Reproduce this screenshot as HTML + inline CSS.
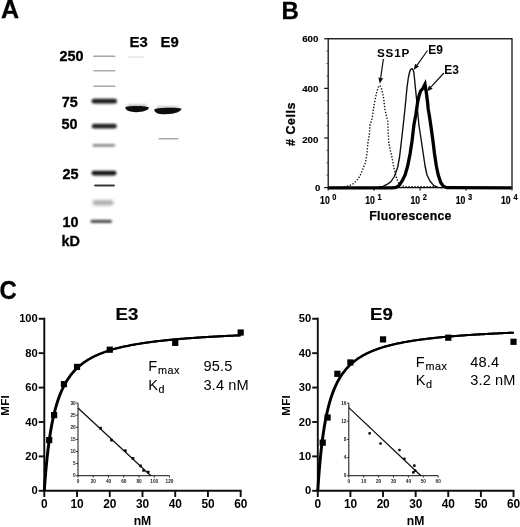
<!DOCTYPE html>
<html><head><meta charset="utf-8"><title>Figure</title>
<style>
html,body{margin:0;padding:0;background:#fff;}
body{width:520px;height:527px;overflow:hidden;font-family:"Liberation Sans",sans-serif;}
svg{display:block;font-family:"Liberation Sans",sans-serif;}
.b{font-weight:bold;}
</style></head><body>
<svg width="520" height="527" viewBox="0 0 520 527">
<defs>
<filter id="bl1" x="-20%" y="-200%" width="140%" height="500%"><feGaussianBlur stdDeviation="0.7"/></filter>
<filter id="bl2" x="-20%" y="-200%" width="140%" height="500%"><feGaussianBlur stdDeviation="1.1"/></filter>
<filter id="bl3" x="-20%" y="-200%" width="140%" height="500%"><feGaussianBlur stdDeviation="1.6"/></filter>
<filter id="tb" x="0" y="0" width="520" height="527" filterUnits="userSpaceOnUse"><feGaussianBlur stdDeviation="0.3"/></filter>
</defs>
<rect width="520" height="527" fill="#fff"/>
<g filter="url(#tb)">

<g id="panelA">
<text x="0.9" y="17.9" class="b" font-size="25" stroke="#000" stroke-width="0.3">A</text>
<text x="129.6" y="47.3" class="b" font-size="14.9" stroke="#000" stroke-width="0.25">E3</text>
<text x="160.6" y="47.3" class="b" font-size="14.9" stroke="#000" stroke-width="0.25">E9</text>
<text transform="translate(71.5,61.2) scale(0.93,1)" text-anchor="middle" class="b" font-size="15.5" stroke="#000" stroke-width="0.35">250</text>
<text transform="translate(69.8,106.9) scale(0.93,1)" text-anchor="middle" class="b" font-size="15.5" stroke="#000" stroke-width="0.35">75</text>
<text transform="translate(69.6,128.5) scale(0.93,1)" text-anchor="middle" class="b" font-size="15.5" stroke="#000" stroke-width="0.35">50</text>
<text transform="translate(70.6,178.9) scale(0.93,1)" text-anchor="middle" class="b" font-size="15.5" stroke="#000" stroke-width="0.35">25</text>
<text transform="translate(70.6,226.6) scale(0.93,1)" text-anchor="middle" class="b" font-size="15.5" stroke="#000" stroke-width="0.35">10</text>
<text transform="translate(70.6,246.3) scale(0.93,1)" text-anchor="middle" class="b" font-size="15.5" stroke="#000" stroke-width="0.35">kD</text>
<rect x="93" y="55.4" width="22.5" height="1.6" rx="0.8" fill="#a4a4a4" filter="url(#bl1)"/>
<rect x="93.2" y="69.95" width="22.299999999999997" height="1.5" rx="0.75" fill="#adadad" filter="url(#bl1)"/>
<rect x="93.2" y="85.55" width="22.299999999999997" height="1.5" rx="0.75" fill="#a8a8a8" filter="url(#bl1)"/>
<rect x="91.6" y="98.8" width="25.400000000000006" height="4.8" rx="2.4" fill="#1a1a1a" filter="url(#bl2)"/>
<rect x="91.8" y="123.8" width="25.0" height="4.8" rx="2.4" fill="#222" filter="url(#bl2)"/>
<rect x="92.6" y="144.1" width="22.60000000000001" height="2.6" rx="1.3" fill="#888" filter="url(#bl2)"/>
<rect x="91.5" y="170.8" width="25.0" height="4.6" rx="2.3" fill="#141414" filter="url(#bl2)"/>
<rect x="94" y="184.4" width="21" height="2.2" rx="1.1" fill="#3a3a3a" filter="url(#bl1)"/>
<rect x="92.5" y="200.05" width="21.0" height="5.5" rx="2.75" fill="#b0b0b0" filter="url(#bl3)"/>
<rect x="90.5" y="219.85" width="21.5" height="3.1" rx="1.55" fill="#505050" filter="url(#bl2)"/>
<rect x="127.5" y="104.6" width="19" height="2.4" rx="1" fill="#b8b8b8" filter="url(#bl2)"/>
<rect x="157" y="106.6" width="22" height="2.4" rx="1" fill="#b8b8b8" filter="url(#bl2)"/>
<path d="M125.4,107 C130,105.5 144,105.5 148.8,107.2 C149,109.4 146,110.9 141,111.8 C136,112.5 131,112.1 128,110.8 C126,109.7 125.2,108.4 125.4,107 Z" fill="#0a0a0a" filter="url(#bl1)"/>
<path d="M154.4,109.2 C160,107.6 176,107.4 181.4,108.5 C181.6,110.6 178,112.6 172,113.8 C166,114.6 160,114.4 157,113.2 C155,112.1 154.2,110.7 154.4,109.2 Z" fill="#0a0a0a" filter="url(#bl1)"/>
<rect x="158.5" y="138.1" width="20" height="1.3" rx="0.6" fill="#a8a8a8" filter="url(#bl1)"/>
<rect x="128" y="56.4" width="16" height="1.1" rx="0.5" fill="#dcdcdc" filter="url(#bl1)"/>
</g>
<g id="panelB">
<text x="281.6" y="18.5" class="b" font-size="24" stroke="#000" stroke-width="0.3">B</text>
<rect x="328.2" y="38.75" width="183.8" height="148.85" fill="none" stroke="#111" stroke-width="1.3"/>
<line x1="324.2" y1="38.75" x2="328.2" y2="38.75" stroke="#111" stroke-width="1.2"/>
<text x="318.3" y="42.25" text-anchor="end" class="b" font-size="9.7" stroke="#000" stroke-width="0.15">600</text>
<line x1="324.2" y1="88.37" x2="328.2" y2="88.37" stroke="#111" stroke-width="1.2"/>
<text x="318.3" y="91.87" text-anchor="end" class="b" font-size="9.7" stroke="#000" stroke-width="0.15">400</text>
<line x1="324.2" y1="137.98" x2="328.2" y2="137.98" stroke="#111" stroke-width="1.2"/>
<text x="318.3" y="142.68" text-anchor="end" class="b" font-size="9.7" stroke="#000" stroke-width="0.15">200</text>
<line x1="324.2" y1="187.6" x2="328.2" y2="187.6" stroke="#111" stroke-width="1.2"/>
<text x="320.3" y="191.1" text-anchor="end" class="b" font-size="9.7" stroke="#000" stroke-width="0.15">0</text>
<line x1="326.2" y1="175.2" x2="328.2" y2="175.2" stroke="#444" stroke-width="0.7"/>
<line x1="326.2" y1="162.79" x2="328.2" y2="162.79" stroke="#444" stroke-width="0.7"/>
<line x1="326.2" y1="150.39" x2="328.2" y2="150.39" stroke="#444" stroke-width="0.7"/>
<line x1="326.2" y1="125.58" x2="328.2" y2="125.58" stroke="#444" stroke-width="0.7"/>
<line x1="326.2" y1="113.17" x2="328.2" y2="113.17" stroke="#444" stroke-width="0.7"/>
<line x1="326.2" y1="100.77" x2="328.2" y2="100.77" stroke="#444" stroke-width="0.7"/>
<line x1="326.2" y1="75.96" x2="328.2" y2="75.96" stroke="#444" stroke-width="0.7"/>
<line x1="326.2" y1="63.56" x2="328.2" y2="63.56" stroke="#444" stroke-width="0.7"/>
<line x1="326.2" y1="51.15" x2="328.2" y2="51.15" stroke="#444" stroke-width="0.7"/>
<line x1="328.2" y1="187.6" x2="328.2" y2="190.6" stroke="#111" stroke-width="1.2"/>
<text transform="translate(320.1,204.1) scale(0.85,1)" class="b" font-size="10.2" stroke="#000" stroke-width="0.2">10</text>
<text transform="translate(332.2,199.9) scale(0.76,1)" class="b" font-size="9.8" stroke="#000" stroke-width="0.2">0</text>
<line x1="374.15" y1="187.6" x2="374.15" y2="190.6" stroke="#111" stroke-width="1.2"/>
<text transform="translate(365.3,204.1) scale(0.85,1)" class="b" font-size="10.2" stroke="#000" stroke-width="0.2">10</text>
<text transform="translate(377.5,199.9) scale(0.76,1)" class="b" font-size="9.8" stroke="#000" stroke-width="0.2">1</text>
<line x1="420.1" y1="187.6" x2="420.1" y2="190.6" stroke="#111" stroke-width="1.2"/>
<text transform="translate(410.5,204.1) scale(0.85,1)" class="b" font-size="10.2" stroke="#000" stroke-width="0.2">10</text>
<text transform="translate(422.8,199.9) scale(0.76,1)" class="b" font-size="9.8" stroke="#000" stroke-width="0.2">2</text>
<line x1="466.05" y1="187.6" x2="466.05" y2="190.6" stroke="#111" stroke-width="1.2"/>
<text transform="translate(455.7,204.1) scale(0.85,1)" class="b" font-size="10.2" stroke="#000" stroke-width="0.2">10</text>
<text transform="translate(468.1,199.9) scale(0.76,1)" class="b" font-size="9.8" stroke="#000" stroke-width="0.2">3</text>
<line x1="512" y1="187.6" x2="512" y2="190.6" stroke="#111" stroke-width="1.2"/>
<text transform="translate(500.9,204.1) scale(0.85,1)" class="b" font-size="10.2" stroke="#000" stroke-width="0.2">10</text>
<text transform="translate(513.4,199.9) scale(0.76,1)" class="b" font-size="9.8" stroke="#000" stroke-width="0.2">4</text>
<text x="410.5" y="220.3" text-anchor="middle" class="b" font-size="12.3" letter-spacing="0.25" stroke="#000" stroke-width="0.25">Fluorescence</text>
<text transform="translate(294.8,124) rotate(-90)" text-anchor="middle" class="b" font-size="12.4" letter-spacing="0.6" stroke="#000" stroke-width="0.3"># Cells</text>
<polyline points="338,187.3 344,187 348,186 352.4,184.4 356.1,181.25 359.9,176.25 363,168.75 365.5,162.5 367,152.5 368,142.5 369.4,133.75 370,125 371.25,121.25 372.25,117.5 373.5,108.75 375,100 376.9,91.25 378.4,87 379.75,85.4 381,87 381.9,90 383.75,98.75 384.75,108.75 386.5,116.25 387.75,121.25 388.1,130 388.75,142.5 390.2,150 392,157.5 393.8,167 395,172.8 397,179.4 398.8,183.5 401.5,186 406,186.6 434,186.6" fill="none" stroke="#0c0c0c" stroke-width="1.4" stroke-dasharray="1.3 1.7"/>
<polyline points="328.5,187.6 378,187.4 383,186.3 387,184.4 390.75,181.9 394.5,176.25 397.6,167.5 399.5,157.5 401.4,141.25 403.25,125 405.1,107.5 407,87.5 408.3,78 409.5,72.5 410.5,69.5 411.75,68.6 413,69.8 413.9,72.5 415.1,85 416.4,97.5 417.6,111 418.9,125 421.4,141.25 423.25,153.75 425.1,166.25 427,175 430.1,181.25 433.9,185.6 438,187.3 442,187.6" fill="none" stroke="#0a0a0a" stroke-width="1.35" stroke-linejoin="round"/>
<polyline points="328.5,187.9 392,187.9 396,187.3 398.9,185.6 402,181.25 405.1,175 407.6,166.25 410.1,153.75 412,141.25 413.9,125 415.75,115 417.6,102.5 419,96 420.6,91 422.8,88.6 425,84.3 426.4,93 427.6,102.5 428.2,109 429.25,115 430.75,125 433,141.25 434.5,153.75 436.4,166.25 438.25,175 440.75,182.5 443.25,186.25 447,187.7 511.5,187.9" fill="none" stroke="#050505" stroke-width="3.3" stroke-linejoin="miter" stroke-miterlimit="4"/>
<text x="377" y="57.3" class="b" font-size="11.7" letter-spacing="0.8">SS1P</text>
<text x="428.2" y="53.9" class="b" font-size="12">E9</text>
<text x="444.3" y="73.8" class="b" font-size="12">E3</text>
<line x1="383.4" y1="59" x2="380.66" y2="77.86" stroke="#111" stroke-width="1.2"/><polygon points="379.8,83.8 378.29,77.52 383.04,78.21" fill="#111"/>
<line x1="427.5" y1="50.5" x2="417.08" y2="65.11" stroke="#111" stroke-width="1.2"/><polygon points="413.6,70 415.13,63.72 419.04,66.51" fill="#111"/>
<line x1="443.9" y1="73" x2="430.86" y2="87.18" stroke="#111" stroke-width="1.2"/><polygon points="426.8,91.6 429.09,85.56 432.63,88.81" fill="#111"/>
</g>
<g id="panelC">
<text transform="translate(-0.5,298.6) scale(0.95,1)" class="b" font-size="25.2" stroke="#000" stroke-width="0.3">C</text>
<path d="M44.3,317.85 V490.8 H241.58" fill="none" stroke="#0a0a0a" stroke-width="1.9"/>
<line x1="38.7" y1="490.8" x2="44.3" y2="490.8" stroke="#0a0a0a" stroke-width="1.9"/>
<text x="37.6" y="494.4" text-anchor="end" class="b" font-size="11.2" letter-spacing="-0.1">0</text>
<line x1="38.7" y1="456.39" x2="44.3" y2="456.39" stroke="#0a0a0a" stroke-width="1.9"/>
<text x="37.6" y="459.99" text-anchor="end" class="b" font-size="11.2" letter-spacing="-0.1">20</text>
<line x1="38.7" y1="421.98" x2="44.3" y2="421.98" stroke="#0a0a0a" stroke-width="1.9"/>
<text x="37.6" y="425.58" text-anchor="end" class="b" font-size="11.2" letter-spacing="-0.1">40</text>
<line x1="38.7" y1="387.57" x2="44.3" y2="387.57" stroke="#0a0a0a" stroke-width="1.9"/>
<text x="37.6" y="391.17" text-anchor="end" class="b" font-size="11.2" letter-spacing="-0.1">60</text>
<line x1="38.7" y1="353.16" x2="44.3" y2="353.16" stroke="#0a0a0a" stroke-width="1.9"/>
<text x="37.6" y="356.76" text-anchor="end" class="b" font-size="11.2" letter-spacing="-0.1">80</text>
<line x1="38.7" y1="318.75" x2="44.3" y2="318.75" stroke="#0a0a0a" stroke-width="1.9"/>
<text x="37.6" y="322.35" text-anchor="end" class="b" font-size="11.2" letter-spacing="-0.1">100</text>
<line x1="44.3" y1="490.8" x2="44.3" y2="497.0" stroke="#0a0a0a" stroke-width="1.9"/>
<text x="44.3" y="508.3" text-anchor="middle" class="b" font-size="11.9" letter-spacing="-0.2">0</text>
<line x1="77.03" y1="490.8" x2="77.03" y2="497.0" stroke="#0a0a0a" stroke-width="1.9"/>
<text x="77.03" y="508.3" text-anchor="middle" class="b" font-size="11.9" letter-spacing="-0.2">10</text>
<line x1="109.76" y1="490.8" x2="109.76" y2="497.0" stroke="#0a0a0a" stroke-width="1.9"/>
<text x="109.76" y="508.3" text-anchor="middle" class="b" font-size="11.9" letter-spacing="-0.2">20</text>
<line x1="142.49" y1="490.8" x2="142.49" y2="497.0" stroke="#0a0a0a" stroke-width="1.9"/>
<text x="142.49" y="508.3" text-anchor="middle" class="b" font-size="11.9" letter-spacing="-0.2">30</text>
<line x1="175.22" y1="490.8" x2="175.22" y2="497.0" stroke="#0a0a0a" stroke-width="1.9"/>
<text x="175.22" y="508.3" text-anchor="middle" class="b" font-size="11.9" letter-spacing="-0.2">40</text>
<line x1="207.95" y1="490.8" x2="207.95" y2="497.0" stroke="#0a0a0a" stroke-width="1.9"/>
<text x="207.95" y="508.3" text-anchor="middle" class="b" font-size="11.9" letter-spacing="-0.2">50</text>
<line x1="240.68" y1="490.8" x2="240.68" y2="497.0" stroke="#0a0a0a" stroke-width="1.9"/>
<text x="240.68" y="508.3" text-anchor="middle" class="b" font-size="11.9" letter-spacing="-0.2">60</text>
<text x="142.49" y="525.3" text-anchor="middle" class="b" font-size="12.2">nM</text>
<text transform="translate(8.9,405.3) rotate(-90)" text-anchor="middle" class="b" font-size="11.6" letter-spacing="0.3">MFI</text>
<text transform="translate(115.5,319.6) scale(1.07,1)" class="b" font-size="17.4" stroke="#000" stroke-width="0.2">E3</text>
<polyline points="43.85,490.8 43.85,490.75 43.86,490.6 43.88,490.35 43.9,490 43.94,489.55 43.97,489.01 44.02,488.37 44.07,487.64 44.13,486.82 44.19,485.92 44.26,484.93 44.34,483.86 44.43,482.71 44.52,481.49 44.62,480.2 44.72,478.85 44.84,477.44 44.95,475.96 45.08,474.44 45.21,472.86 45.35,471.24 45.5,469.58 45.65,467.88 45.81,466.15 45.98,464.39 46.15,462.61 46.34,460.8 46.52,458.98 46.72,457.14 46.92,455.29 47.13,453.43 47.34,451.56 47.56,449.69 47.79,447.83 48.03,445.96 48.27,444.1 48.52,442.25 48.77,440.4 49.04,438.57 49.3,436.75 49.58,434.95 49.86,433.16 50.15,431.38 50.45,429.63 50.75,427.89 51.06,426.18 51.38,424.48 51.71,422.81 52.04,421.16 52.37,419.54 52.72,417.93 53.07,416.35 53.43,414.8 53.79,413.27 54.16,411.77 54.54,410.29 54.93,408.84 55.32,407.41 55.72,406 56.12,404.62 56.54,403.27 56.96,401.94 57.38,400.64 57.81,399.36 58.25,398.1 58.7,396.87 59.15,395.67 59.61,394.48 60.08,393.32 60.56,392.18 61.04,391.07 61.52,389.97 62.02,388.9 62.52,387.85 63.03,386.83 63.54,385.82 64.06,384.83 64.59,383.86 65.13,382.92 65.67,381.99 66.22,381.08 66.77,380.19 67.34,379.31 67.91,378.46 68.48,377.62 69.07,376.8 69.66,376 70.25,375.21 70.86,374.44 71.47,373.69 72.08,372.95 72.71,372.22 73.34,371.51 73.98,370.81 74.62,370.13 75.27,369.47 75.93,368.81 76.59,368.17 77.27,367.54 77.94,366.93 78.63,366.32 79.32,365.73 80.02,365.15 80.73,364.58 81.44,364.02 82.16,363.48 82.88,362.94 83.62,362.42 84.36,361.9 85.1,361.4 85.86,360.9 86.62,360.42 87.38,359.94 88.16,359.48 88.94,359.02 89.73,358.57 90.52,358.13 91.32,357.69 92.13,357.27 92.94,356.85 93.77,356.44 94.6,356.04 95.43,355.65 96.27,355.26 97.12,354.88 97.98,354.51 98.84,354.15 99.71,353.79 100.59,353.44 101.47,353.09 102.36,352.75 103.25,352.42 104.16,352.09 105.07,351.77 105.99,351.45 106.91,351.14 107.84,350.83 108.78,350.53 109.72,350.24 110.67,349.95 111.63,349.66 112.6,349.38 113.57,349.11 114.55,348.84 115.53,348.57 116.52,348.31 117.52,348.05 118.53,347.8 119.54,347.55 120.56,347.31 121.59,347.07 122.62,346.83 123.66,346.6 124.71,346.37 125.76,346.14 126.82,345.92 127.89,345.71 128.96,345.49 130.04,345.28 131.13,345.07 132.22,344.87 133.33,344.67 134.43,344.47 135.55,344.27 136.67,344.08 137.8,343.89 138.93,343.71 140.08,343.52 141.23,343.34 142.38,343.17 143.54,342.99 144.71,342.82 145.89,342.65 147.07,342.48 148.26,342.32 149.46,342.16 150.66,342 151.87,341.84 153.09,341.68 154.31,341.53 155.54,341.38 156.78,341.23 158.03,341.08 159.28,340.94 160.54,340.8 161.8,340.66 163.07,340.52 164.35,340.38 165.64,340.25 166.93,340.12 168.23,339.99 169.53,339.86 170.85,339.73 172.17,339.6 173.49,339.48 174.82,339.36 176.16,339.24 177.51,339.12 178.86,339 180.23,338.89 181.59,338.77 182.97,338.66 184.35,338.55 185.73,338.44 187.13,338.33 188.53,338.23 189.94,338.12 191.35,338.02 192.77,337.92 194.2,337.82 195.64,337.72 197.08,337.62 198.53,337.52 199.99,337.42 201.45,337.33 202.92,337.24 204.39,337.14 205.88,337.05 207.37,336.96 208.86,336.87 210.37,336.78 211.88,336.7 213.39,336.61 214.92,336.53 216.45,336.44 217.99,336.36 219.53,336.28 221.08,336.2 222.64,336.12 224.21,336.04 225.78,335.96 227.36,335.89 228.94,335.81 230.53,335.74 232.13,335.66 233.74,335.59 235.35,335.52 236.97,335.44 238.6,335.37 240.23,335.3" fill="none" stroke="#050505" stroke-width="2.05" stroke-linejoin="round"/>
<polyline points="44.75,490.8 44.75,490.75 44.76,490.6 44.78,490.35 44.8,490 44.84,489.55 44.87,489.01 44.92,488.37 44.97,487.64 45.03,486.82 45.09,485.92 45.16,484.93 45.24,483.86 45.33,482.71 45.42,481.49 45.52,480.2 45.62,478.85 45.74,477.44 45.85,475.96 45.98,474.44 46.11,472.86 46.25,471.24 46.4,469.58 46.55,467.88 46.71,466.15 46.88,464.39 47.05,462.61 47.24,460.8 47.42,458.98 47.62,457.14 47.82,455.29 48.03,453.43 48.24,451.56 48.46,449.69 48.69,447.83 48.93,445.96 49.17,444.1 49.42,442.25 49.67,440.4 49.94,438.57 50.2,436.75 50.48,434.95 50.76,433.16 51.05,431.38 51.35,429.63 51.65,427.89 51.96,426.18 52.28,424.48 52.61,422.81 52.94,421.16 53.27,419.54 53.62,417.93 53.97,416.35 54.33,414.8 54.69,413.27 55.06,411.77 55.44,410.29 55.83,408.84 56.22,407.41 56.62,406 57.02,404.62 57.44,403.27 57.86,401.94 58.28,400.64 58.71,399.36 59.15,398.1 59.6,396.87 60.05,395.67 60.51,394.48 60.98,393.32 61.46,392.18 61.94,391.07 62.42,389.97 62.92,388.9 63.42,387.85 63.93,386.83 64.44,385.82 64.96,384.83 65.49,383.86 66.03,382.92 66.57,381.99 67.12,381.08 67.67,380.19 68.24,379.31 68.81,378.46 69.38,377.62 69.97,376.8 70.56,376 71.15,375.21 71.76,374.44 72.37,373.69 72.98,372.95 73.61,372.22 74.24,371.51 74.88,370.81 75.52,370.13 76.17,369.47 76.83,368.81 77.49,368.17 78.17,367.54 78.84,366.93 79.53,366.32 80.22,365.73 80.92,365.15 81.63,364.58 82.34,364.02 83.06,363.48 83.78,362.94 84.52,362.42 85.26,361.9 86,361.4 86.76,360.9 87.52,360.42 88.28,359.94 89.06,359.48 89.84,359.02 90.63,358.57 91.42,358.13 92.22,357.69 93.03,357.27 93.84,356.85 94.67,356.44 95.5,356.04 96.33,355.65 97.17,355.26 98.02,354.88 98.88,354.51 99.74,354.15 100.61,353.79 101.49,353.44 102.37,353.09 103.26,352.75 104.15,352.42 105.06,352.09 105.97,351.77 106.89,351.45 107.81,351.14 108.74,350.83 109.68,350.53 110.62,350.24 111.57,349.95 112.53,349.66 113.5,349.38 114.47,349.11 115.45,348.84 116.43,348.57 117.42,348.31 118.42,348.05 119.43,347.8 120.44,347.55 121.46,347.31 122.49,347.07 123.52,346.83 124.56,346.6 125.61,346.37 126.66,346.14 127.72,345.92 128.79,345.71 129.86,345.49 130.94,345.28 132.03,345.07 133.12,344.87 134.23,344.67 135.33,344.47 136.45,344.27 137.57,344.08 138.7,343.89 139.83,343.71 140.98,343.52 142.13,343.34 143.28,343.17 144.44,342.99 145.61,342.82 146.79,342.65 147.97,342.48 149.16,342.32 150.36,342.16 151.56,342 152.77,341.84 153.99,341.68 155.21,341.53 156.44,341.38 157.68,341.23 158.93,341.08 160.18,340.94 161.44,340.8 162.7,340.66 163.97,340.52 165.25,340.38 166.54,340.25 167.83,340.12 169.13,339.99 170.43,339.86 171.75,339.73 173.07,339.6 174.39,339.48 175.72,339.36 177.06,339.24 178.41,339.12 179.76,339 181.12,338.89 182.49,338.77 183.87,338.66 185.25,338.55 186.63,338.44 188.03,338.33 189.43,338.23 190.84,338.12 192.25,338.02 193.67,337.92 195.1,337.82 196.54,337.72 197.98,337.62 199.43,337.52 200.89,337.42 202.35,337.33 203.82,337.24 205.29,337.14 206.78,337.05 208.27,336.96 209.76,336.87 211.27,336.78 212.78,336.7 214.29,336.61 215.82,336.53 217.35,336.44 218.89,336.36 220.43,336.28 221.98,336.2 223.54,336.12 225.11,336.04 226.68,335.96 228.26,335.89 229.84,335.81 231.43,335.74 233.03,335.66 234.64,335.59 236.25,335.52 237.87,335.44 239.5,335.37 241.13,335.3" fill="none" stroke="#050505" stroke-width="2.05" stroke-linejoin="round"/>
<rect x="46.11" y="436.95" width="6.2" height="6.2" fill="#050505"/>
<rect x="51.02" y="412" width="6.2" height="6.2" fill="#050505"/>
<rect x="60.84" y="381.03" width="6.2" height="6.2" fill="#050505"/>
<rect x="73.93" y="363.82" width="6.2" height="6.2" fill="#050505"/>
<rect x="106.66" y="346.62" width="6.2" height="6.2" fill="#050505"/>
<rect x="172.12" y="339.74" width="6.2" height="6.2" fill="#050505"/>
<rect x="237.58" y="329.41" width="6.2" height="6.2" fill="#050505"/>
<text x="148.3" y="371.09999999999997" font-size="14.6">F<tspan font-size="10.8" dx="0.9" dy="3" letter-spacing="0.45" stroke="#000" stroke-width="0.15">max</tspan></text>
<text x="203.6" y="371.09999999999997" font-size="14.6" letter-spacing="0.1">95.5</text>
<text x="148.3" y="390.2" font-size="14.6">K<tspan font-size="10.8" dx="0.4" dy="3" stroke="#000" stroke-width="0.15">d</tspan></text>
<text x="203.6" y="390.2" font-size="14.6" letter-spacing="0.1">3.4 nM</text>
<path d="M78,403.1 V475.7 H169.5" fill="none" stroke="#111" stroke-width="1"/>
<line x1="76" y1="475.7" x2="78" y2="475.7" stroke="#111" stroke-width="0.8"/>
<text x="75.6" y="477.4" text-anchor="end" font-size="4.7" class="b" fill="#1a1a1a">0</text>
<line x1="76" y1="463.6" x2="78" y2="463.6" stroke="#111" stroke-width="0.8"/>
<text x="75.6" y="465.3" text-anchor="end" font-size="4.7" class="b" fill="#1a1a1a">5</text>
<line x1="76" y1="451.5" x2="78" y2="451.5" stroke="#111" stroke-width="0.8"/>
<text x="75.6" y="453.2" text-anchor="end" font-size="4.7" class="b" fill="#1a1a1a">10</text>
<line x1="76" y1="439.4" x2="78" y2="439.4" stroke="#111" stroke-width="0.8"/>
<text x="75.6" y="441.1" text-anchor="end" font-size="4.7" class="b" fill="#1a1a1a">15</text>
<line x1="76" y1="427.3" x2="78" y2="427.3" stroke="#111" stroke-width="0.8"/>
<text x="75.6" y="429" text-anchor="end" font-size="4.7" class="b" fill="#1a1a1a">20</text>
<line x1="76" y1="415.2" x2="78" y2="415.2" stroke="#111" stroke-width="0.8"/>
<text x="75.6" y="416.9" text-anchor="end" font-size="4.7" class="b" fill="#1a1a1a">25</text>
<line x1="76" y1="403.1" x2="78" y2="403.1" stroke="#111" stroke-width="0.8"/>
<text x="75.6" y="404.8" text-anchor="end" font-size="4.7" class="b" fill="#1a1a1a">30</text>
<line x1="78" y1="475.7" x2="78" y2="477.7" stroke="#111" stroke-width="0.8"/>
<text x="78" y="483.3" text-anchor="middle" font-size="4.7" class="b" fill="#1a1a1a">0</text>
<line x1="93.25" y1="475.7" x2="93.25" y2="477.7" stroke="#111" stroke-width="0.8"/>
<text x="93.25" y="483.3" text-anchor="middle" font-size="4.7" class="b" fill="#1a1a1a">20</text>
<line x1="108.5" y1="475.7" x2="108.5" y2="477.7" stroke="#111" stroke-width="0.8"/>
<text x="108.5" y="483.3" text-anchor="middle" font-size="4.7" class="b" fill="#1a1a1a">40</text>
<line x1="123.75" y1="475.7" x2="123.75" y2="477.7" stroke="#111" stroke-width="0.8"/>
<text x="123.75" y="483.3" text-anchor="middle" font-size="4.7" class="b" fill="#1a1a1a">60</text>
<line x1="139" y1="475.7" x2="139" y2="477.7" stroke="#111" stroke-width="0.8"/>
<text x="139" y="483.3" text-anchor="middle" font-size="4.7" class="b" fill="#1a1a1a">80</text>
<line x1="154.25" y1="475.7" x2="154.25" y2="477.7" stroke="#111" stroke-width="0.8"/>
<text x="154.25" y="483.3" text-anchor="middle" font-size="4.7" class="b" fill="#1a1a1a">100</text>
<line x1="169.5" y1="475.7" x2="169.5" y2="477.7" stroke="#111" stroke-width="0.8"/>
<text x="169.5" y="483.3" text-anchor="middle" font-size="4.7" class="b" fill="#1a1a1a">120</text>
<line x1="78" y1="407.94" x2="150.82" y2="475.7" stroke="#0a0a0a" stroke-width="1.2"/>
<rect x="99.14" y="426.76" width="2.7" height="2.7" rx="0.5" fill="#0a0a0a"/>
<rect x="110.2" y="438.86" width="2.7" height="2.7" rx="0.5" fill="#0a0a0a"/>
<rect x="123.93" y="449.34" width="2.7" height="2.7" rx="0.5" fill="#0a0a0a"/>
<rect x="131.55" y="456.93" width="2.7" height="2.7" rx="0.5" fill="#0a0a0a"/>
<rect x="139.18" y="464.43" width="2.7" height="2.7" rx="0.5" fill="#0a0a0a"/>
<rect x="142.22" y="469.15" width="2.7" height="2.7" rx="0.5" fill="#0a0a0a"/>
<rect x="146.8" y="470.64" width="2.7" height="2.7" rx="0.5" fill="#0a0a0a"/>
<path d="M317.8,317.85 V490.8 H514.42" fill="none" stroke="#0a0a0a" stroke-width="1.9"/>
<line x1="312.2" y1="490.8" x2="317.8" y2="490.8" stroke="#0a0a0a" stroke-width="1.9"/>
<text x="311.1" y="494.4" text-anchor="end" class="b" font-size="11.2" letter-spacing="-0.1">0</text>
<line x1="312.2" y1="456.39" x2="317.8" y2="456.39" stroke="#0a0a0a" stroke-width="1.9"/>
<text x="311.1" y="459.99" text-anchor="end" class="b" font-size="11.2" letter-spacing="-0.1">10</text>
<line x1="312.2" y1="421.98" x2="317.8" y2="421.98" stroke="#0a0a0a" stroke-width="1.9"/>
<text x="311.1" y="425.58" text-anchor="end" class="b" font-size="11.2" letter-spacing="-0.1">20</text>
<line x1="312.2" y1="387.57" x2="317.8" y2="387.57" stroke="#0a0a0a" stroke-width="1.9"/>
<text x="311.1" y="391.17" text-anchor="end" class="b" font-size="11.2" letter-spacing="-0.1">30</text>
<line x1="312.2" y1="353.16" x2="317.8" y2="353.16" stroke="#0a0a0a" stroke-width="1.9"/>
<text x="311.1" y="356.76" text-anchor="end" class="b" font-size="11.2" letter-spacing="-0.1">40</text>
<line x1="312.2" y1="318.75" x2="317.8" y2="318.75" stroke="#0a0a0a" stroke-width="1.9"/>
<text x="311.1" y="322.35" text-anchor="end" class="b" font-size="11.2" letter-spacing="-0.1">50</text>
<line x1="317.8" y1="490.8" x2="317.8" y2="497.0" stroke="#0a0a0a" stroke-width="1.9"/>
<text x="317.8" y="508.3" text-anchor="middle" class="b" font-size="11.9" letter-spacing="-0.2">0</text>
<line x1="350.42" y1="490.8" x2="350.42" y2="497.0" stroke="#0a0a0a" stroke-width="1.9"/>
<text x="350.42" y="508.3" text-anchor="middle" class="b" font-size="11.9" letter-spacing="-0.2">10</text>
<line x1="383.04" y1="490.8" x2="383.04" y2="497.0" stroke="#0a0a0a" stroke-width="1.9"/>
<text x="383.04" y="508.3" text-anchor="middle" class="b" font-size="11.9" letter-spacing="-0.2">20</text>
<line x1="415.66" y1="490.8" x2="415.66" y2="497.0" stroke="#0a0a0a" stroke-width="1.9"/>
<text x="415.66" y="508.3" text-anchor="middle" class="b" font-size="11.9" letter-spacing="-0.2">30</text>
<line x1="448.28" y1="490.8" x2="448.28" y2="497.0" stroke="#0a0a0a" stroke-width="1.9"/>
<text x="448.28" y="508.3" text-anchor="middle" class="b" font-size="11.9" letter-spacing="-0.2">40</text>
<line x1="480.9" y1="490.8" x2="480.9" y2="497.0" stroke="#0a0a0a" stroke-width="1.9"/>
<text x="480.9" y="508.3" text-anchor="middle" class="b" font-size="11.9" letter-spacing="-0.2">50</text>
<line x1="513.52" y1="490.8" x2="513.52" y2="497.0" stroke="#0a0a0a" stroke-width="1.9"/>
<text x="513.52" y="508.3" text-anchor="middle" class="b" font-size="11.9" letter-spacing="-0.2">60</text>
<text x="415.66" y="525.3" text-anchor="middle" class="b" font-size="12.2">nM</text>
<text transform="translate(290.1,405.3) rotate(-90)" text-anchor="middle" class="b" font-size="11.6" letter-spacing="0.3">MFI</text>
<text transform="translate(370,319.6) scale(1.07,1)" class="b" font-size="17.4" stroke="#000" stroke-width="0.2">E9</text>
<polyline points="317.35,490.8 317.35,490.75 317.36,490.58 317.38,490.31 317.4,489.94 317.43,489.46 317.47,488.87 317.52,488.19 317.57,487.4 317.63,486.52 317.69,485.55 317.76,484.49 317.84,483.34 317.92,482.12 318.02,480.81 318.11,479.43 318.22,477.99 318.33,476.48 318.45,474.91 318.58,473.29 318.71,471.61 318.85,469.89 318.99,468.13 319.15,466.33 319.31,464.5 319.47,462.64 319.65,460.76 319.83,458.86 320.01,456.94 320.21,455.01 320.41,453.06 320.62,451.12 320.83,449.16 321.05,447.21 321.28,445.26 321.51,443.32 321.75,441.39 322,439.46 322.26,437.55 322.52,435.65 322.79,433.76 323.06,431.9 323.34,430.05 323.63,428.22 323.93,426.42 324.23,424.63 324.54,422.87 324.86,421.14 325.18,419.42 325.51,417.74 325.84,416.08 326.19,414.44 326.54,412.83 326.89,411.25 327.26,409.7 327.63,408.17 328.01,406.67 328.39,405.2 328.78,403.75 329.18,402.33 329.58,400.94 329.99,399.57 330.41,398.23 330.84,396.92 331.27,395.63 331.71,394.37 332.15,393.13 332.6,391.92 333.06,390.73 333.53,389.57 334,388.43 334.48,387.32 334.96,386.23 335.46,385.16 335.96,384.11 336.46,383.08 336.98,382.08 337.5,381.1 338.02,380.13 338.56,379.19 339.1,378.27 339.64,377.37 340.2,376.48 340.76,375.62 341.33,374.77 341.9,373.94 342.48,373.13 343.07,372.34 343.66,371.56 344.26,370.8 344.87,370.05 345.49,369.32 346.11,368.61 346.74,367.91 347.37,367.22 348.02,366.55 348.67,365.89 349.32,365.25 349.98,364.62 350.65,364 351.33,363.39 352.01,362.8 352.7,362.22 353.4,361.65 354.1,361.09 354.81,360.55 355.53,360.01 356.25,359.49 356.98,358.97 357.72,358.47 358.46,357.98 359.22,357.49 359.97,357.02 360.74,356.55 361.51,356.1 362.29,355.65 363.07,355.21 363.86,354.78 364.66,354.36 365.47,353.94 366.28,353.54 367.1,353.14 367.92,352.75 368.76,352.37 369.6,351.99 370.44,351.62 371.3,351.26 372.15,350.9 373.02,350.55 373.89,350.21 374.77,349.87 375.66,349.54 376.56,349.22 377.46,348.9 378.36,348.59 379.28,348.28 380.2,347.98 381.13,347.68 382.06,347.39 383,347.1 383.95,346.82 384.9,346.55 385.87,346.27 386.83,346.01 387.81,345.75 388.79,345.49 389.78,345.23 390.78,344.99 391.78,344.74 392.79,344.5 393.8,344.26 394.83,344.03 395.86,343.8 396.89,343.58 397.93,343.35 398.98,343.14 400.04,342.92 401.11,342.71 402.18,342.5 403.25,342.3 404.34,342.1 405.43,341.9 406.52,341.71 407.63,341.52 408.74,341.33 409.86,341.14 410.98,340.96 412.11,340.78 413.25,340.6 414.4,340.43 415.55,340.26 416.71,340.09 417.87,339.92 419.05,339.76 420.23,339.6 421.41,339.44 422.6,339.28 423.8,339.13 425.01,338.98 426.22,338.83 427.44,338.68 428.67,338.53 429.9,338.39 431.14,338.25 432.39,338.11 433.64,337.97 434.9,337.84 436.17,337.7 437.45,337.57 438.73,337.44 440.01,337.32 441.31,337.19 442.61,337.07 443.92,336.94 445.23,336.82 446.56,336.7 447.88,336.59 449.22,336.47 450.56,336.36 451.91,336.25 453.27,336.13 454.63,336.02 456,335.92 457.37,335.81 458.76,335.7 460.15,335.6 461.54,335.5 462.95,335.4 464.36,335.3 465.77,335.2 467.2,335.1 468.63,335.01 470.07,334.91 471.51,334.82 472.96,334.73 474.42,334.63 475.88,334.54 477.35,334.46 478.83,334.37 480.32,334.28 481.81,334.2 483.31,334.11 484.81,334.03 486.32,333.95 487.84,333.86 489.37,333.78 490.9,333.7 492.44,333.63 493.99,333.55 495.54,333.47 497.1,333.4 498.67,333.32 500.24,333.25 501.82,333.17 503.41,333.1 505,333.03 506.6,332.96 508.21,332.89 509.82,332.82 511.44,332.76 513.07,332.69" fill="none" stroke="#050505" stroke-width="2.05" stroke-linejoin="round"/>
<polyline points="318.25,490.8 318.25,490.75 318.26,490.58 318.28,490.31 318.3,489.94 318.33,489.46 318.37,488.87 318.42,488.19 318.47,487.4 318.53,486.52 318.59,485.55 318.66,484.49 318.74,483.34 318.82,482.12 318.92,480.81 319.01,479.43 319.12,477.99 319.23,476.48 319.35,474.91 319.48,473.29 319.61,471.61 319.75,469.89 319.89,468.13 320.05,466.33 320.21,464.5 320.37,462.64 320.55,460.76 320.73,458.86 320.91,456.94 321.11,455.01 321.31,453.06 321.52,451.12 321.73,449.16 321.95,447.21 322.18,445.26 322.41,443.32 322.65,441.39 322.9,439.46 323.16,437.55 323.42,435.65 323.69,433.76 323.96,431.9 324.24,430.05 324.53,428.22 324.83,426.42 325.13,424.63 325.44,422.87 325.76,421.14 326.08,419.42 326.41,417.74 326.74,416.08 327.09,414.44 327.44,412.83 327.79,411.25 328.16,409.7 328.53,408.17 328.91,406.67 329.29,405.2 329.68,403.75 330.08,402.33 330.48,400.94 330.89,399.57 331.31,398.23 331.74,396.92 332.17,395.63 332.61,394.37 333.05,393.13 333.5,391.92 333.96,390.73 334.43,389.57 334.9,388.43 335.38,387.32 335.86,386.23 336.36,385.16 336.86,384.11 337.36,383.08 337.88,382.08 338.4,381.1 338.92,380.13 339.46,379.19 340,378.27 340.54,377.37 341.1,376.48 341.66,375.62 342.23,374.77 342.8,373.94 343.38,373.13 343.97,372.34 344.56,371.56 345.16,370.8 345.77,370.05 346.39,369.32 347.01,368.61 347.64,367.91 348.27,367.22 348.92,366.55 349.57,365.89 350.22,365.25 350.88,364.62 351.55,364 352.23,363.39 352.91,362.8 353.6,362.22 354.3,361.65 355,361.09 355.71,360.55 356.43,360.01 357.15,359.49 357.88,358.97 358.62,358.47 359.36,357.98 360.12,357.49 360.87,357.02 361.64,356.55 362.41,356.1 363.19,355.65 363.97,355.21 364.76,354.78 365.56,354.36 366.37,353.94 367.18,353.54 368,353.14 368.82,352.75 369.66,352.37 370.5,351.99 371.34,351.62 372.2,351.26 373.05,350.9 373.92,350.55 374.79,350.21 375.67,349.87 376.56,349.54 377.46,349.22 378.36,348.9 379.26,348.59 380.18,348.28 381.1,347.98 382.03,347.68 382.96,347.39 383.9,347.1 384.85,346.82 385.8,346.55 386.77,346.27 387.73,346.01 388.71,345.75 389.69,345.49 390.68,345.23 391.68,344.99 392.68,344.74 393.69,344.5 394.7,344.26 395.73,344.03 396.76,343.8 397.79,343.58 398.83,343.35 399.88,343.14 400.94,342.92 402.01,342.71 403.08,342.5 404.15,342.3 405.24,342.1 406.33,341.9 407.42,341.71 408.53,341.52 409.64,341.33 410.76,341.14 411.88,340.96 413.01,340.78 414.15,340.6 415.3,340.43 416.45,340.26 417.61,340.09 418.77,339.92 419.95,339.76 421.13,339.6 422.31,339.44 423.5,339.28 424.7,339.13 425.91,338.98 427.12,338.83 428.34,338.68 429.57,338.53 430.8,338.39 432.04,338.25 433.29,338.11 434.54,337.97 435.8,337.84 437.07,337.7 438.35,337.57 439.63,337.44 440.91,337.32 442.21,337.19 443.51,337.07 444.82,336.94 446.13,336.82 447.46,336.7 448.78,336.59 450.12,336.47 451.46,336.36 452.81,336.25 454.17,336.13 455.53,336.02 456.9,335.92 458.27,335.81 459.66,335.7 461.05,335.6 462.44,335.5 463.85,335.4 465.26,335.3 466.67,335.2 468.1,335.1 469.53,335.01 470.97,334.91 472.41,334.82 473.86,334.73 475.32,334.63 476.78,334.54 478.25,334.46 479.73,334.37 481.22,334.28 482.71,334.2 484.21,334.11 485.71,334.03 487.22,333.95 488.74,333.86 490.27,333.78 491.8,333.7 493.34,333.63 494.89,333.55 496.44,333.47 498,333.4 499.57,333.32 501.14,333.25 502.72,333.17 504.31,333.1 505.9,333.03 507.5,332.96 509.11,332.89 510.72,332.82 512.34,332.76 513.97,332.69" fill="none" stroke="#050505" stroke-width="2.05" stroke-linejoin="round"/>
<rect x="319.59" y="439.53" width="6.2" height="6.2" fill="#050505"/>
<rect x="324.49" y="414.41" width="6.2" height="6.2" fill="#050505"/>
<rect x="334.27" y="370.71" width="6.2" height="6.2" fill="#050505"/>
<rect x="347.32" y="359.35" width="6.2" height="6.2" fill="#050505"/>
<rect x="379.94" y="336.3" width="6.2" height="6.2" fill="#050505"/>
<rect x="445.18" y="334.58" width="6.2" height="6.2" fill="#050505"/>
<rect x="510.42" y="338.7" width="6.2" height="6.2" fill="#050505"/>
<text x="415.8" y="366.7" font-size="14.6">F<tspan font-size="10.8" dx="0.9" dy="3" letter-spacing="0.45" stroke="#000" stroke-width="0.15">max</tspan></text>
<text x="470.3" y="366.7" font-size="14.6" letter-spacing="0.1">48.4</text>
<text x="415.8" y="385.0" font-size="14.6">K<tspan font-size="10.8" dx="0.4" dy="3" stroke="#000" stroke-width="0.15">d</tspan></text>
<text x="470.3" y="385.0" font-size="14.6" letter-spacing="0.1">3.2 nM</text>
<path d="M348.8,403.1 V475.7 H438.2" fill="none" stroke="#111" stroke-width="1"/>
<line x1="346.8" y1="475.7" x2="348.8" y2="475.7" stroke="#111" stroke-width="0.8"/>
<text x="346.4" y="477.4" text-anchor="end" font-size="4.7" class="b" fill="#1a1a1a">0</text>
<line x1="346.8" y1="457.55" x2="348.8" y2="457.55" stroke="#111" stroke-width="0.8"/>
<text x="346.4" y="459.25" text-anchor="end" font-size="4.7" class="b" fill="#1a1a1a">4</text>
<line x1="346.8" y1="439.4" x2="348.8" y2="439.4" stroke="#111" stroke-width="0.8"/>
<text x="346.4" y="441.1" text-anchor="end" font-size="4.7" class="b" fill="#1a1a1a">8</text>
<line x1="346.8" y1="421.25" x2="348.8" y2="421.25" stroke="#111" stroke-width="0.8"/>
<text x="346.4" y="422.95" text-anchor="end" font-size="4.7" class="b" fill="#1a1a1a">12</text>
<line x1="346.8" y1="403.1" x2="348.8" y2="403.1" stroke="#111" stroke-width="0.8"/>
<text x="346.4" y="404.8" text-anchor="end" font-size="4.7" class="b" fill="#1a1a1a">16</text>
<line x1="348.8" y1="475.7" x2="348.8" y2="477.7" stroke="#111" stroke-width="0.8"/>
<text x="348.8" y="483.3" text-anchor="middle" font-size="4.7" class="b" fill="#1a1a1a">0</text>
<line x1="363.7" y1="475.7" x2="363.7" y2="477.7" stroke="#111" stroke-width="0.8"/>
<text x="363.7" y="483.3" text-anchor="middle" font-size="4.7" class="b" fill="#1a1a1a">10</text>
<line x1="378.6" y1="475.7" x2="378.6" y2="477.7" stroke="#111" stroke-width="0.8"/>
<text x="378.6" y="483.3" text-anchor="middle" font-size="4.7" class="b" fill="#1a1a1a">20</text>
<line x1="393.5" y1="475.7" x2="393.5" y2="477.7" stroke="#111" stroke-width="0.8"/>
<text x="393.5" y="483.3" text-anchor="middle" font-size="4.7" class="b" fill="#1a1a1a">30</text>
<line x1="408.4" y1="475.7" x2="408.4" y2="477.7" stroke="#111" stroke-width="0.8"/>
<text x="408.4" y="483.3" text-anchor="middle" font-size="4.7" class="b" fill="#1a1a1a">40</text>
<line x1="423.3" y1="475.7" x2="423.3" y2="477.7" stroke="#111" stroke-width="0.8"/>
<text x="423.3" y="483.3" text-anchor="middle" font-size="4.7" class="b" fill="#1a1a1a">50</text>
<line x1="438.2" y1="475.7" x2="438.2" y2="477.7" stroke="#111" stroke-width="0.8"/>
<text x="438.2" y="483.3" text-anchor="middle" font-size="4.7" class="b" fill="#1a1a1a">60</text>
<line x1="348.8" y1="407.64" x2="420.92" y2="475.7" stroke="#0a0a0a" stroke-width="1.2"/>
<rect x="368.31" y="432" width="2.7" height="2.7" rx="1.1" fill="#0a0a0a"/>
<rect x="379.19" y="442.13" width="2.7" height="2.7" rx="1.1" fill="#0a0a0a"/>
<rect x="398.11" y="448.64" width="2.7" height="2.7" rx="1.1" fill="#0a0a0a"/>
<rect x="403.03" y="457.43" width="2.7" height="2.7" rx="1.1" fill="#0a0a0a"/>
<rect x="413.01" y="464.37" width="2.7" height="2.7" rx="1.1" fill="#0a0a0a"/>
<rect x="413.75" y="469.3" width="2.7" height="2.7" rx="1.1" fill="#0a0a0a"/>
<rect x="411.97" y="471.08" width="2.7" height="2.7" rx="1.1" fill="#0a0a0a"/>
</g>
</g></svg></body></html>
